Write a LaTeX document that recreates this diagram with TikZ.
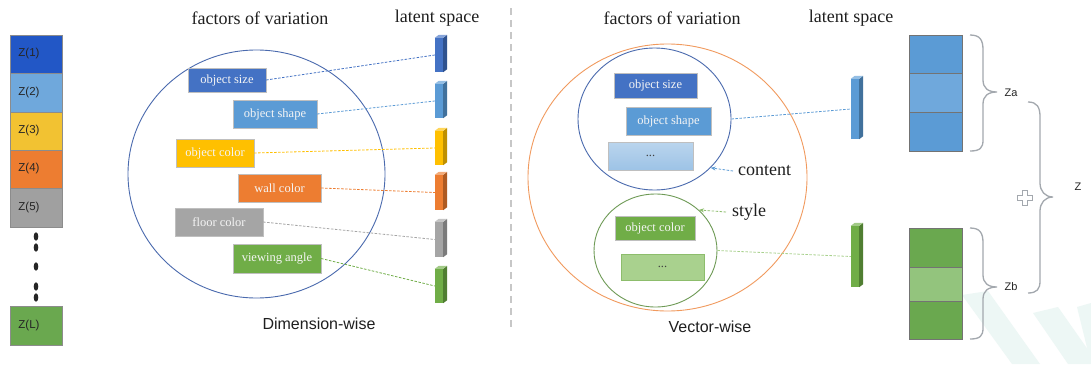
\documentclass[tikz,border=0pt]{standalone}
\usepackage{fontspec}
\setmainfont{Liberation Serif}
\newfontfamily\arialf{Liberation Sans}
\usetikzlibrary{shapes.geometric,arrows.meta}
\definecolor{zA}{HTML}{2257C6}
\definecolor{zB}{HTML}{6FA8DC}
\definecolor{zC}{HTML}{F2C232}
\definecolor{zD}{HTML}{ED7D31}
\definecolor{zE}{HTML}{A0A0A0}
\definecolor{zF}{HTML}{6AA84F}
\definecolor{fA}{HTML}{4472C4}
\definecolor{fB}{HTML}{5B9BD5}
\definecolor{fC}{HTML}{FFC000}
\definecolor{fD}{HTML}{ED7D31}
\definecolor{fE}{HTML}{A5A5A5}
\definecolor{fF}{HTML}{70AD47}
\definecolor{sA}{HTML}{2F528F}
\definecolor{sB}{HTML}{41719C}
\definecolor{sC}{HTML}{BF9000}
\definecolor{sD}{HTML}{AE5A21}
\definecolor{sE}{HTML}{7B7B7B}
\definecolor{sF}{HTML}{507E32}
\definecolor{ringblue}{HTML}{4A6AAE}
\definecolor{ringorange}{HTML}{F19A5E}
\definecolor{ringgreen}{HTML}{6E9A55}
\definecolor{bracegray}{HTML}{A3A8AE}
\definecolor{wmark}{HTML}{EDF7F5}
\definecolor{lightblue}{HTML}{9DC3E6}
\definecolor{lightgreen}{HTML}{A9D18E}
\definecolor{stackgreen}{HTML}{93C47D}
\newcommand\mkbar[6]{%
  \node[barf, fill=#5, minimum height=#4pt] (#1) at (#2,#3) {};
  \fill[#6] (#1.north east) -- ++(4,-3) -- ([shift={(4,-3)}]#1.south east) -- (#1.south east) -- cycle;
  \fill[#5!65!white] (#1.north west) -- ++(4,-3) -- ++(8,0) -- (#1.north east) -- cycle;
}
\tikzset{
  zcell/.style={rectangle, draw=black!45, line width=0.6pt, minimum width=52pt, inner sep=0pt,
    font=\arialf\fontsize{11.5}{12}\selectfont, text=black!85},
  factor/.style={rectangle, draw=white!75!black, line width=0.4pt, inner sep=0pt, text=white!96!black,
    font=\fontsize{12.5}{12.5}\selectfont},
  barf/.style={rectangle, inner sep=0pt, minimum width=8pt, draw=none},
  head/.style={font=\fontsize{18}{20}\selectfont, text=black!88},
  caption/.style={font=\arialf\fontsize{16}{18}\selectfont, text=black!88},
  ring/.style={ellipse, draw, inner sep=0pt, line width=0.9pt},
  link/.style={dash pattern=on 2.5pt off 1.5pt, line width=0.8pt},
  scell/.style={rectangle, draw=black!55, line width=0.7pt, minimum width=53pt, inner sep=0pt},
  bracepath/.style={draw=bracegray, line width=1.3pt},
  zlab/.style={font=\arialf\fontsize{11}{12}\selectfont, text=black!85}
}
\begin{document}
\begin{tikzpicture}[x=1pt,y=-1pt]
\useasboundingbox[fill=white] (0,0) rectangle (1091,364);
% watermark bands
\fill[wmark] (962,295) -- (988,291) -- (1040,364) -- (1012,364) -- cycle;
\fill[wmark] (1033,313) -- (1058,307) -- (1098,364) -- (1068,364) -- cycle;
\fill[wmark] (1077,307) -- (1091,303) -- (1091,364) -- (1091,364) -- cycle;

% left Z column
\node[zcell, fill=zA, minimum height=38pt] (z1) at (36,54) {Z(1)\kern14pt};
\node[zcell, fill=zB, minimum height=39pt] (z2) at (36,92.5) {Z(2)\kern14pt};
\node[zcell, fill=zC, minimum height=38pt] (z3) at (36,131) {Z(3)\kern14pt};
\node[zcell, fill=zD, minimum height=38pt] (z4) at (36,169) {Z(4)\kern14pt};
\node[zcell, fill=zE, minimum height=39pt] (z5) at (36,207.5) {Z(5)\kern14pt};
\node[zcell, fill=zF, minimum height=39pt] (zL) at (36,325.5) {Z(L)\kern14pt};
\foreach \yy in {236.5,247.5,266.5,286.5,297.5}
  \fill[black!85] (36,\yy) ellipse [x radius=2.3, y radius=4.2];

% divider
\draw[black!22, line width=2pt, dash pattern=on 7pt off 5pt] (511,8) -- (511,327);

% ===== Dimension-wise =====
\node[head] (hl1) at (260,18) {factors of variation};
\node[head] (hl2) at (437,18) {latent space};
\node[ring, draw=ringblue, minimum width=257pt, minimum height=248pt] (bigl) at (256.5,174) {};

\node[factor, fill=fA, minimum width=78pt, minimum height=24pt] (osz) at (227,80) {object size};
\node[factor, fill=fB, minimum width=84pt, minimum height=28pt] (osh) at (275,114) {object shape};
\node[factor, fill=fC, minimum width=78pt, minimum height=28pt] (ocol) at (215,153) {object color};
\node[factor, fill=fD, minimum width=83pt, minimum height=28pt] (wcol) at (279.5,188) {wall color};
\node[factor, fill=fE, minimum width=88pt, minimum height=28pt] (fcol) at (219,222) {floor color};
\node[factor, fill=fF, minimum width=88pt, minimum height=29pt] (vang) at (277,258.5) {viewing angle};

\mkbar{b1}{439}{55}{34}{fA}{sA}
\mkbar{b2}{439}{101}{34}{fB}{sB}
\mkbar{b3}{439}{148}{34}{fC}{sC}
\mkbar{b4}{439}{192.5}{35}{fD}{sD}
\mkbar{b5}{439}{239.5}{35}{fE}{sE}
\mkbar{b6}{439}{286}{34}{fF}{sF}

\draw[link, fA] (osz.east) -- (b1.west);
\draw[link, fB] (osh.east) -- (b2.west);
\draw[link, fC] (ocol.east) -- (b3.west);
\draw[link, fD] (wcol.east) -- (b4.west);
\draw[link, fE] (fcol.east) -- (b5.west);
\draw[link, fF] (vang.east) -- (b6.west);

\node[caption] (cap1) at (319,324) {Dimension-wise};

% ===== Vector-wise =====
\node[head] (hr1) at (672,18) {factors of variation};
\node[head] (hr2) at (851,18) {latent space};
\node[ring, draw=ringorange, minimum width=279pt, minimum height=267pt] (bigr) at (667.5,177.5) {};
\node[ring, draw=ringblue, minimum width=153pt, minimum height=142pt] (cc) at (654.5,119) {};
\node[ring, draw=ringgreen, minimum width=123pt, minimum height=113pt] (sc) at (655.5,250.5) {};

\node[factor, fill=fA, minimum width=83pt, minimum height=25pt] (rosz) at (655.5,85.5) {object size};
\node[factor, fill=fB, minimum width=85pt, minimum height=28pt] (rosh) at (668.5,121) {object shape};
\node[factor, top color=lightblue!70!white, bottom color=lightblue, minimum width=85pt, minimum height=28pt, text=black!75] (rdb) at (650.5,156) {...};
\node[factor, fill=fF, minimum width=80pt, minimum height=24pt] (rocol) at (655,228) {object color};
\node[factor, fill=lightgreen, draw=fF!80!white, minimum width=83pt, minimum height=26pt, text=black!75] (rdg) at (662.5,267) {...};

\node[head, anchor=west, inner sep=1pt] (lcont) at (737,171) {content};
\node[head, anchor=west, inner sep=1pt] (lstyle) at (731,212) {style};
\draw[link, fB, -{Stealth[length=5pt,width=4pt]}] ([xshift=-4pt]lcont.west) -- (cc.-41.4);
\draw[link, fF!80!white, -{Stealth[length=5pt,width=4pt]}] ([xshift=-5pt]lstyle.west) -- (sc.43);

\mkbar{rb1}{855}{109}{60}{fB}{sB}
\mkbar{rb2}{855}{256.5}{61}{fF}{sF}
\draw[link, fB] (cc.east) -- (rb1.west);
\draw[link, lightgreen] (sc.east) -- (rb2.west);

\node[caption] (cap2) at (710,327) {Vector-wise};

% stacks
\node[scell, fill=fB, minimum height=38pt] (sa1) at (935.5,54) {};
\node[scell, fill=zB, minimum height=39pt] (sa2) at (935.5,92.5) {};
\node[scell, fill=fB, minimum height=39pt] (sa3) at (935.5,131.5) {};
\node[scell, fill=zF, minimum height=39pt] (sb1) at (935.5,247.5) {};
\node[scell, fill=stackgreen, minimum height=34pt] (sb2) at (935.5,284) {};
\node[scell, fill=zF, minimum height=38pt] (sb3) at (935.5,320) {};

% braces
\draw[bracepath] (970,35) .. controls (980,35) and (983,40) .. (983,50) -- (983,80)
  .. controls (983,88) and (988,92) .. (997,92) .. controls (988,92) and (983,96) .. (983,104)
  -- (983,140) .. controls (983,148) and (980,151) .. (970,151);
\draw[bracepath] (970,228) .. controls (980,228) and (983,233) .. (983,243) -- (983,275)
  .. controls (983,283) and (988,287) .. (997,287) .. controls (988,287) and (983,291) .. (983,299)
  -- (983,328) .. controls (983,336) and (980,339) .. (970,339);
\draw[bracepath] (1028,102) .. controls (1037,102) and (1040,107) .. (1040,117) -- (1040,183)
  .. controls (1040,191) and (1045,197) .. (1053,197) .. controls (1045,197) and (1040,203) .. (1040,211)
  -- (1040,281) .. controls (1040,289) and (1037,293) .. (1028,293);
\node[zlab] (za) at (1011,93) {Za};
\node[zlab] (zb) at (1011,287) {Zb};
\node[zlab] (zz) at (1078,187) {Z};

% plus
\draw[bracegray, line width=1pt, fill=white] (1022.5,190) -- (1027.5,190) -- (1027.5,195) -- (1032.5,195)
  -- (1032.5,200) -- (1027.5,200) -- (1027.5,205) -- (1022.5,205) -- (1022.5,200) -- (1017.5,200)
  -- (1017.5,195) -- (1022.5,195) -- cycle;
\end{tikzpicture}
\end{document}
